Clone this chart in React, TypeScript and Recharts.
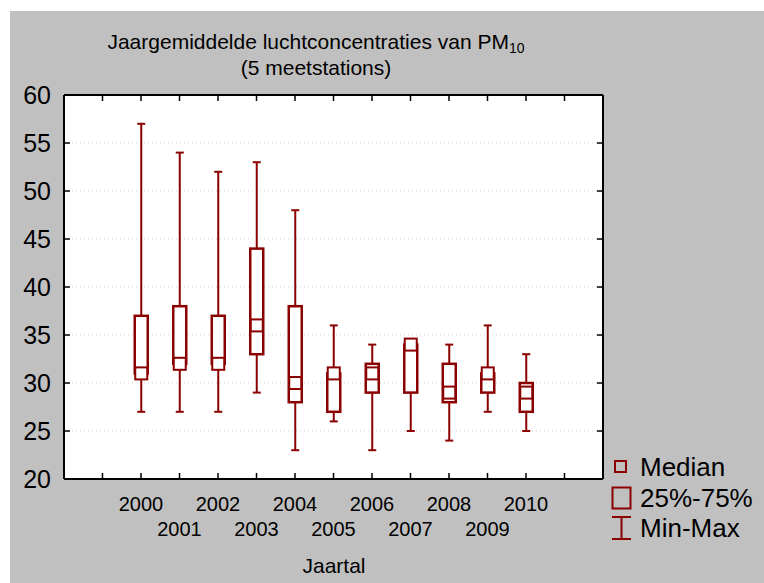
import { ComposedChart, Bar, XAxis, YAxis, CartesianGrid } from "recharts";

const years = [2000, 2001, 2002, 2003, 2004, 2005, 2006, 2007, 2008, 2009, 2010];
const mins = [27, 27, 27, 29, 23, 26, 23, 25, 24, 27, 25];
const q1s = [31, 32, 32, 33, 28, 27, 29, 29, 28, 29, 27];
const medians = [31, 32, 32, 36, 30, 31, 31, 34, 29, 31, 29];
const q3s = [37, 38, 37, 44, 38, 31, 32, 34, 32, 31, 30];
const maxs = [57, 54, 52, 53, 48, 36, 34, 34, 34, 36, 33];

const xTicks = [1998, 1999, 2000, 2001, 2002, 2003, 2004, 2005, 2006, 2007, 2008, 2009, 2010, 2011, 2012];
const yTicks = [20, 25, 30, 35, 40, 45, 50, 55, 60];

const RED = "#8b0000";
const FONT = "'Liberation Sans', Arial, sans-serif";

const data = years.map((year, i) => ({
  year,
  range: [mins[i], maxs[i]],
  min: mins[i],
  q1: q1s[i],
  med: medians[i],
  q3: q3s[i],
  max: maxs[i],
}));

const BoxShape = (props: any) => {
  const { x, y, width, height, payload } = props;
  if (x == null || y == null) return null;
  const yTop = Math.min(y, y + height);
  const yBot = Math.max(y, y + height);
  const { min, max, q1, q3, med } = payload;
  const py = (v: number) => (max === min ? yBot : yBot + ((v - min) / (max - min)) * (yTop - yBot));
  const cx = x + width / 2;
  const bw = 13;
  const ms = 12;
  return (
    <g>
      <line x1={cx} x2={cx} y1={py(max)} y2={py(min)} stroke={RED} strokeWidth={2} />
      <line x1={cx - 4} x2={cx + 4} y1={py(max)} y2={py(max)} stroke={RED} strokeWidth={2} />
      <line x1={cx - 4} x2={cx + 4} y1={py(min)} y2={py(min)} stroke={RED} strokeWidth={2} />
      <rect x={cx - bw / 2} y={py(q3)} width={bw} height={py(q1) - py(q3)} fill="#fff" stroke={RED} strokeWidth={2.5} />
      <rect x={cx - ms / 2} y={py(med) - ms / 2} width={ms} height={ms} fill="#fff" stroke={RED} strokeWidth={2} />
    </g>
  );
};

const LeftTick = ({ x, y, payload }: any) => (
  <g>
    <line x1={x} x2={x + 6} y1={y} y2={y} stroke="#000" strokeWidth={1.5} />
    <text x={x - 13} y={y} textAnchor="end" dominantBaseline="central" fontSize={25} fontFamily={FONT} fill="#000">
      {payload.value}
    </text>
  </g>
);

const RightTick = ({ x, y }: any) => <line x1={x} x2={x - 6} y1={y} y2={y} stroke="#000" strokeWidth={1.5} />;

const TopTick = ({ x, y }: any) => <line x1={x} x2={x} y1={y} y2={y + 6} stroke="#000" strokeWidth={1.5} />;

const BottomTick = ({ x, y, payload }: any) => {
  const v = payload.value;
  const show = v >= 2000 && v <= 2010;
  const row = v % 2 === 0 ? 25 : 50;
  return (
    <g>
      <line x1={x} x2={x} y1={y} y2={y - 6} stroke="#000" strokeWidth={1.5} />
      {show && (
        <text x={x} y={y + row} textAnchor="middle" dominantBaseline="central" fontSize={20} fontFamily={FONT} fill="#000">
          {v}
        </text>
      )}
    </g>
  );
};

export default function App() {
  return (
    <div style={{ position: "absolute", left: 0, top: 0, width: 764, height: 583, background: "#fff", fontFamily: FONT }}>
      <div style={{ position: "absolute", left: 10, top: 11, width: 754, height: 572, background: "#c0c0c0" }} />
      <div style={{ position: "absolute", left: 0, top: 0 }}>
        <ComposedChart width={764} height={583} data={data} margin={{ top: 65, right: 131, bottom: 74, left: 0 }}>
          <CartesianGrid vertical={false} stroke="#d4d4d4" strokeDasharray="1 3" fill="#fff" />
          <XAxis
            dataKey="year"
            type="number"
            domain={[1998, 2012]}
            ticks={xTicks}
            allowDataOverflow
            height={30}
            tickSize={0}
            tickMargin={0}
            tickLine={false}
            interval={0}
            axisLine={{ stroke: "#000", strokeWidth: 2 }}
            tick={<BottomTick />}
          />
          <XAxis
            xAxisId="t"
            orientation="top"
            dataKey="year"
            type="number"
            domain={[1998, 2012]}
            ticks={xTicks}
            allowDataOverflow
            height={30}
            tickSize={0}
            tickMargin={0}
            tickLine={false}
            interval={0}
            axisLine={{ stroke: "#000", strokeWidth: 2 }}
            tick={<TopTick />}
          />
          <YAxis
            type="number"
            domain={[20, 60]}
            ticks={yTicks}
            allowDataOverflow
            width={64}
            tickSize={0}
            tickMargin={0}
            tickLine={false}
            interval={0}
            axisLine={{ stroke: "#000", strokeWidth: 2 }}
            tick={<LeftTick />}
          />
          <YAxis
            yAxisId="r"
            orientation="right"
            type="number"
            domain={[20, 60]}
            ticks={yTicks}
            allowDataOverflow
            width={30}
            tickSize={0}
            tickMargin={0}
            tickLine={false}
            interval={0}
            axisLine={{ stroke: "#000", strokeWidth: 2 }}
            tick={<RightTick />}
          />
          <Bar dataKey="range" barSize={13} isAnimationActive={false} shape={<BoxShape />} />
        </ComposedChart>
      </div>
      <div style={{ position: "absolute", left: 0, width: 632, top: 29, textAlign: "center", fontSize: 21, lineHeight: "26px", color: "#000" }}>
        <div>
          Jaargemiddelde luchtconcentraties van PM<sub style={{ fontSize: 14, verticalAlign: "-4px", lineHeight: 0 }}>10</sub>
        </div>
        <div>(5 meetstations)</div>
      </div>
      <div style={{ position: "absolute", left: 0, width: 668, top: 554, textAlign: "center", fontSize: 21, color: "#000" }}>Jaartal</div>
      <svg style={{ position: "absolute", left: 600, top: 450 }} width={164} height={100}>
        <rect x={15} y={11} width={11} height={11} fill="none" stroke={RED} strokeWidth={2} />
        <rect x={12.5} y={37.5} width={18} height={21} fill="none" stroke={RED} strokeWidth={2} />
        <line x1={21.5} x2={21.5} y1={67} y2={89} stroke={RED} strokeWidth={2} />
        <line x1={12} x2={31} y1={67} y2={67} stroke={RED} strokeWidth={2} />
        <line x1={12} x2={31} y1={89} y2={89} stroke={RED} strokeWidth={2} />
        <text x={40} y={16.5} dominantBaseline="central" fontSize={26} fontFamily={FONT} fill="#000">Median</text>
        <text x={40} y={47.5} dominantBaseline="central" fontSize={26} fontFamily={FONT} fill="#000">25%-75%</text>
        <text x={40} y={77.5} dominantBaseline="central" fontSize={26} fontFamily={FONT} fill="#000">Min-Max</text>
      </svg>
    </div>
  );
}
